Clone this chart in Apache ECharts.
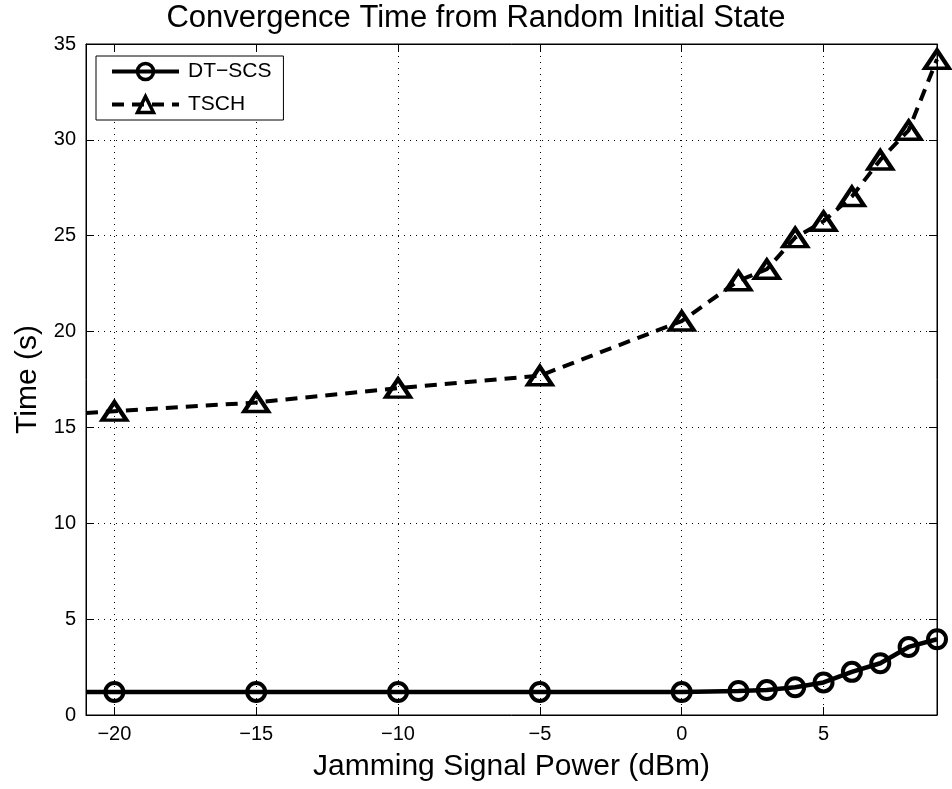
<!DOCTYPE html>
<html>
<head>
<meta charset="utf-8">
<script src="https://cdn.jsdelivr.net/npm/echarts@6/dist/echarts.min.js"></script>
<style>html,body{margin:0;padding:0;background:#fff}#c{width:952px;height:789px}</style>
</head>
<body>
<div id="c"></div>
<script>
var titleText = 'Convergence Time from Random Initial State';
var xName = 'Jamming Signal Power (dBm)';
var yName = 'Time (s)';
var xPower = [-21, -20, -15, -10, -5, 0, 2, 3, 4, 5, 6, 7, 8, 9];
var dtscs  = [1.2, 1.2, 1.2, 1.2, 1.2, 1.2, 1.25, 1.3, 1.45, 1.7, 2.25, 2.7, 3.55, 3.95];
var tsch   = [15.75, 15.85, 16.3, 17.05, 17.7, 20.55, 22.65, 23.25, 24.9, 25.75, 27.05, 28.95, 30.5, 34.2];
var xTicks = [-20, -15, -10, -5, 0, 5];
var yTicks = [0, 5, 10, 15, 20, 25, 30, 35];
var xMin = -21, xMax = 9, yMin = 0, yMax = 35;

function pts(ys){
  return xPower.map(function(x,i){
    var d = {value:[x, ys[i]]};
    if (x < xTicks[0]) d.symbol = 'none';
    return d;
  });
}
var fontFam = '"Liberation Sans", Arial, Helvetica, sans-serif';
var tickStyle = {show:true, inside:true, length:8, lineStyle:{color:'#000', width:1}};
var gridLine = {show:true, lineStyle:{color:'#000', width:1, type:[1,5]}};
var axLine = {show:true, onZero:false, lineStyle:{color:'#000', width:1}};
var chart = echarts.init(document.getElementById('c'), null, {renderer:'canvas'});
chart.setOption({
  animation:false,
  backgroundColor:'#fff',
  title:{text:titleText, left:'center', top:3, padding:0,
    textStyle:{fontFamily:fontFam, fontSize:31, fontWeight:'normal', color:'#000'}},
  grid:{left:86, right:15, top:44, bottom:74, show:true, borderColor:'#000', borderWidth:1},
  legend:{left:96, top:56, orient:'vertical', itemWidth:67, itemHeight:20, itemGap:12,
    padding:[5,12,5,14], borderColor:'#000', borderWidth:1, backgroundColor:'#fff',
    lineStyle:{width:4},
    itemStyle:{borderWidth:3.5},
    textStyle:{fontFamily:fontFam, fontSize:21, color:'#000', padding:[0,0,0,4]},
    data:['DT\u2212SCS','TSCH']},
  xAxis:[{type:'value', min:xMin, max:xMax, position:'bottom',
    name:xName, nameLocation:'middle', nameGap:37,
    nameTextStyle:{fontFamily:fontFam, fontSize:30, color:'#000'},
    axisLine:axLine,
    axisTick:Object.assign({customValues:xTicks}, tickStyle),
    axisLabel:{customValues:xTicks, fontFamily:fontFam, fontSize:20, color:'#000', margin:9,
      formatter:function(v){return String(v).replace('-', '\u2212');}},
    splitLine:gridLine},
   {type:'value', min:xMin, max:xMax, position:'top',
    axisLine:axLine,
    axisTick:Object.assign({customValues:xTicks}, tickStyle),
    axisLabel:{show:false, customValues:xTicks}, splitLine:{show:false}}],
  yAxis:[{type:'value', min:yMin, max:yMax, interval:5, position:'left',
    name:yName, nameLocation:'middle', nameGap:41,
    nameTextStyle:{fontFamily:fontFam, fontSize:30, color:'#000'},
    axisLine:axLine,
    axisTick:tickStyle,
    axisLabel:{fontFamily:fontFam, fontSize:20, color:'#000', margin:10},
    splitLine:gridLine},
   {type:'value', min:yMin, max:yMax, interval:5, position:'right',
    axisLine:axLine,
    axisTick:tickStyle, axisLabel:{show:false}, splitLine:{show:false}}],
  series:[
    {name:'DT\u2212SCS', type:'line', data:pts(dtscs), symbol:'circle', symbolSize:18,
      showAllSymbol:true, clip:false,
      lineStyle:{color:'#000', width:4.5, type:'solid'},
      itemStyle:{color:'rgba(0,0,0,0)', borderColor:'#000', borderWidth:4}},
    {name:'TSCH', type:'line', data:pts(tsch), symbol:'triangle', symbolSize:[24,18],
      showAllSymbol:true, clip:false,
      lineStyle:{color:'#000', width:4, type:[12,8]},
      itemStyle:{color:'rgba(0,0,0,0)', borderColor:'#000', borderWidth:4}}
  ]
});
</script>
</body>
</html>
